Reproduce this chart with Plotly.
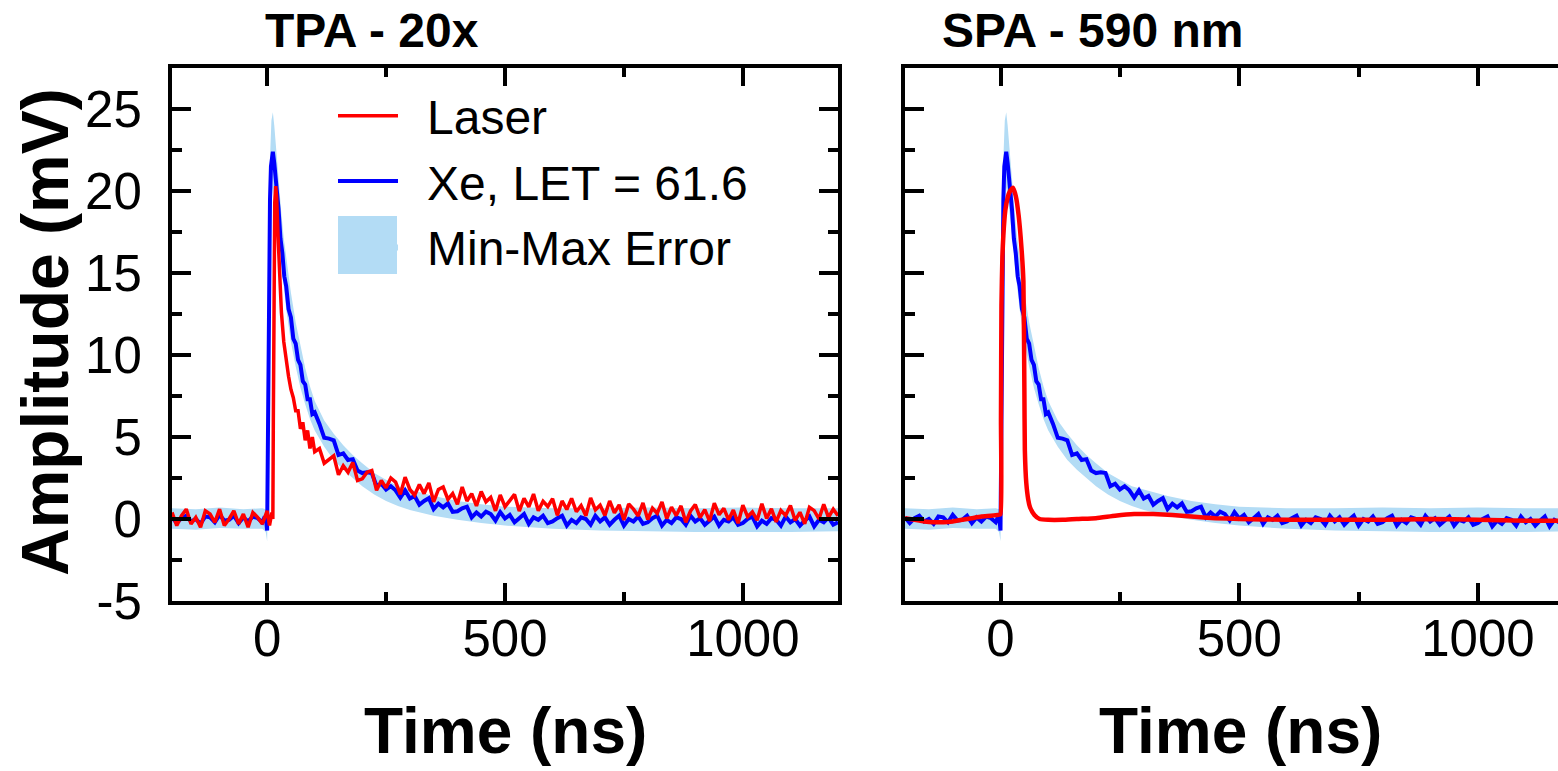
import plotly.graph_objects as go

# ---------------- data ----------------
# Xe heavy-ion transient (same measurement shown in both panels)
time_xe = (list(range(-200, 0, 10)) + [-5, -2, 0, 1, 2, 4, 6, 8, 10, 12, 15, 18, 21, 24, 28, 32, 36, 40,
                                          45, 50, 55, 60, 65, 70, 75, 80, 85, 90, 95, 100]
           + list(range(110, 1201, 10)))
xe_mv = [0.1, -0.25, 0.05, 0.2, -0.15, 0.0, -0.3, 0.15, 0.1, -0.2,
         0.25, -0.1, -0.05, 0.2, -0.25, 0.1, -0.15, 0.15, 0.05, -0.2,
         0.15, -0.10, -0.70, 3.0, 8.0, 15.0, 19.5, 21.5, 22.2, 22.4, 21.7, 20.9, 19.6, 18.9,
         17.1, 16.2, 14.8, 14.2, 12.8, 12.3, 11.0, 10.7, 9.7, 9.4, 8.4, 8.2, 7.3, 7.3, 6.4, 6.5,
         5.8, 4.95, 4.9, 4.8, 3.9, 4.0, 3.6, 3.65, 2.95, 2.8,
         2.85, 2.8, 2.0, 2.15, 1.8, 2.0, 1.75, 1.3, 1.75, 1.25,
         1.4, 0.87, 1.1, 1.27, 0.6, 0.93, 0.71, 0.95, 0.43, 0.47,
         0.65, 0.75, 0.1, 0.4, 0.15, 0.45, 0.3, -0.09, 0.42, 0.03,
         0.25, -0.2, 0.05, 0.3, -0.3, 0.1, -0.05, 0.2, -0.25, -0.15,
         0.05, 0.2, -0.4, -0.05, -0.25, 0.1, 0.0, -0.35, 0.2, -0.15,
         0.1, -0.35, -0.05, 0.2, -0.4, 0.0, -0.15, 0.15, -0.3, -0.2,
         0.05, 0.2, -0.4, -0.05, -0.25, 0.1, 0.0, -0.35, 0.2, -0.15,
         0.05, -0.35, -0.1, 0.15, -0.4, -0.05, -0.15, 0.1, -0.35, -0.25,
         0.0, 0.15, -0.45, -0.1, -0.3, 0.05, -0.05, -0.4, 0.15, -0.2,
         0.0, -0.4, -0.1, 0.15, -0.45, -0.05, -0.2, 0.1, -0.35, -0.2]

# Min-Max envelope of the Xe transients
time_band = [-200, -150, -100, -50, -10, -3, 0, 1, 2, 4, 6, 9, 12, 15, 18, 22, 26, 30, 35, 40,
             50, 60, 70, 80, 90, 100, 120, 140, 160, 180, 200, 225, 250, 275, 300, 350, 400,
             450, 500, 550, 600, 700, 800, 900, 1000, 1100, 1200]
band_max_mv = [0.65, 0.6, 0.7, 0.6, 0.65, 0.6, 0.4, 4.5, 10.5, 17.5, 22.0, 24.3, 24.8, 24.0, 22.8,
               21.5, 20.0, 18.6, 17.1, 15.9, 13.8, 12.0, 10.5, 9.2, 8.1, 7.2, 6.0, 5.2, 4.5, 3.9,
               3.4, 2.8, 2.4, 2.0, 1.8, 1.4, 1.1, 0.9, 0.75, 0.7, 0.65, 0.65, 0.7, 0.65, 0.7,
               0.65, 0.65]
band_min_mv = [-0.6, -0.65, -0.55, -0.6, -0.6, -0.8, -1.35, 0.5, 5.5, 12.0, 16.5, 19.3, 20.2, 19.7,
               19.0, 18.0, 16.8, 15.5, 14.0, 12.8, 10.8, 9.3, 8.0, 7.0, 6.1, 5.4, 4.4, 3.6, 3.0,
               2.5, 2.0, 1.5, 1.1, 0.8, 0.55, 0.2, -0.05, -0.25, -0.4, -0.5, -0.6, -0.7, -0.75,
               -0.8, -0.8, -0.8, -0.75]

# TPA laser transient (panel 1)
time_tpa = (list(range(-200, 1, 10)) + [5, 10, 12, 13, 14, 16, 18, 20, 23, 26, 30, 35, 40, 45, 50,
                                          55, 60, 65, 70, 75, 80, 85, 90, 95, 100]
            + list(range(110, 1201, 10)))
laser_tpa_mv = [0.4, -0.4, 0.2, 0.6, -0.3, 0.1, -0.5, 0.5, 0.3, -0.2,
                0.6, -0.4, 0.0, 0.5, -0.3, 0.3, -0.5, 0.4, 0.1, -0.3, 0.5,
                -0.4, 0.4, 0.0, 6.0, 14.0, 19.3, 20.3, 19.6, 17.2, 14.8, 12.6, 10.8, 9.6, 8.7,
                7.9, 7.4, 6.6, 6.6, 5.5, 5.9, 4.8, 5.4, 4.3, 5.0, 4.1,
                4.3, 3.4, 3.6, 3.85, 2.7, 3.25, 2.85, 3.45, 2.35, 2.45,
                2.85, 2.95, 1.75, 2.35, 1.9, 2.5, 2.25, 1.5, 2.55, 1.8,
                1.45, 2.1, 1.55, 2.2, 1.05, 1.8, 1.95, 1.2, 1.55, 0.9,
                1.95, 1.1, 1.55, 0.8, 1.68, 1.05, 1.32, 0.5, 1.47, 0.75,
                1.12, 1.5, 0.48, 1.26, 0.74, 1.52, 0.5, 1.08, 0.76, 1.24,
                0.22, 1.1, 0.58, 1.26, 0.44, 0.82, 0.2, 1.28, 0.56, 0.84,
                0.22, 1.1, 0.38, 0.86, -0.06, 0.92, 0.6, 0.19, 0.98, -0.03,
                0.66, 0.35, 1.04, 0.03, 0.72, 0.21, 0.8, -0.2, 0.49, 0.88,
                0.08, 0.57, -0.13, 0.96, 0.26, 0.65, -0.05, 0.55, -0.26, 0.84,
                0.14, 0.43, -0.07, 0.93, 0.03, 0.62, -0.18, 0.52, 0.22, 0.82,
                -0.09, 0.41, -0.29, 0.71, 0.51, 0.0, 0.9, 0.1, 0.6, 0.2]

# SPA laser transient, 590 nm (panel 2)
time_spa = [-200, -180, -160, -140, -120, -100, -80, -60, -40, -20, -5, 0, 1, 2, 4, 6, 10, 15, 20,
            26, 32, 38, 44, 48, 50, 51, 54, 58, 62, 71, 82, 100, 130, 160, 200, 240, 280, 320,
            360, 400, 450, 500, 600, 700, 800, 900, 1000, 1100, 1200]
laser_spa_mv = [0.05, -0.05, -0.15, -0.2, -0.2, -0.15, -0.05, 0.05, 0.15, 0.2, 0.25, 0.3, 6.0,
                13.0, 16.0, 17.3, 18.8, 19.6, 20.0, 20.2, 19.7, 18.5, 16.5, 14.5, 8.0, 4.2, 2.2,
                1.2, 0.7, 0.25, 0.0, -0.05, -0.05, 0.0, 0.05, 0.2, 0.3, 0.3, 0.25, 0.15, 0.05,
                0.0, -0.05, -0.05, -0.05, 0.0, -0.05, -0.1, -0.1]

assert len(time_xe) == len(xe_mv)
assert len(time_tpa) == len(laser_tpa_mv)
assert len(time_spa) == len(laser_spa_mv)
assert len(time_band) == len(band_max_mv) == len(band_min_mv)

x_tick_vals = [0, 500, 1000]
x_tick_text = ["0", "500", "1000"]
x_minor_vals = [-250, 250, 750]
y_tick_vals = [-5, 0, 5, 10, 15, 20, 25]
y_tick_text = ["-5", "0", "5", "10", "15", "20", "25"]
y_minor_vals = [-2.5, 2.5, 7.5, 12.5, 17.5, 22.5]

panel_titles = ["TPA - 20x", "SPA - 590 nm"]
legend_names = ["Laser", "Xe, LET = 61.6", "Min-Max Error"]

RED = "#ff0000"
BLUE = "#0000ff"
BAND = "#b3dcf5"
FONT = "Liberation Sans, Arial, sans-serif"
GAP = "\u2002"  # small gap between legend key and its label

fig = go.Figure()

band_x = time_band + time_band[::-1]
band_y = band_max_mv + band_min_mv[::-1]

for i, (xa, ya) in enumerate([("x", "y"), ("x2", "y2")]):
    first = i == 0
    fig.add_trace(go.Scatter(x=band_x, y=band_y, fill="toself", fillcolor=BAND,
                             line=dict(width=0, color=BAND), mode="lines",
                             name=GAP + legend_names[2], legendrank=3, showlegend=first,
                             hoverinfo="skip", xaxis=xa, yaxis=ya))
    fig.add_trace(go.Scatter(x=time_xe, y=xe_mv, mode="lines",
                             line=dict(color=BLUE, width=4),
                             name=GAP + legend_names[1], legendrank=2, showlegend=first,
                             xaxis=xa, yaxis=ya))
    if first:
        fig.add_trace(go.Scatter(x=time_tpa, y=laser_tpa_mv, mode="lines",
                                 line=dict(color=RED, width=3.5),
                                 name=GAP + legend_names[0], legendrank=1, showlegend=True,
                                 xaxis=xa, yaxis=ya))
    else:
        fig.add_trace(go.Scatter(x=time_spa, y=laser_spa_mv, mode="lines",
                                 line=dict(color=RED, width=4.5, shape="spline", smoothing=0.4),
                                 name=legend_names[0], showlegend=False,
                                 xaxis=xa, yaxis=ya))

W, H = 1558, 771
L, R, T, B = 172, 0, 68, 170
pw = W - L - R
ph = H - T - B
d1 = [0, (838 - L) / pw]
d2 = [(905 - L) / pw, 1]


def px_x(p):
    return (p - L) / pw


def px_y(p):
    return (H - B - p) / ph


tickfont = dict(family=FONT, size=51, color="black")
common_x = dict(showline=True, linewidth=4, linecolor="black", ticks="inside", ticklen=18,
                tickwidth=4, tickcolor="black", tickvals=x_tick_vals, ticktext=x_tick_text,
                minor=dict(tickvals=x_minor_vals, ticks="inside", ticklen=9, tickwidth=4,
                           tickcolor="black"),
                showgrid=False, zeroline=False, tickfont=tickfont,
                ticklabelposition="outside", ticklabelstandoff=-10)
common_y = dict(showline=True, linewidth=4, linecolor="black", ticks="inside", ticklen=19,
                tickwidth=4, tickcolor="black", tickvals=y_tick_vals, ticktext=y_tick_text,
                minor=dict(tickvals=y_minor_vals, ticks="inside", ticklen=10, tickwidth=4,
                           tickcolor="black"),
                showgrid=False, zeroline=False, tickfont=tickfont, range=[-5, 27.5])

fig.update_layout(
    width=W, height=H,
    margin=dict(l=L, r=R, t=T, b=B, pad=0),
    paper_bgcolor="white", plot_bgcolor="white",
    font=dict(family=FONT, color="black"),
    xaxis=dict(domain=d1, range=[-200, 1200], mirror="ticks", anchor="y", **common_x),
    xaxis2=dict(domain=d2, range=[-200, (1558 - 1000.7) / 0.4773], mirror="ticks", anchor="y2",
                **common_x),
    yaxis=dict(domain=[0, 1], anchor="x", mirror="ticks", ticklabelstandoff=16, **common_y),
    yaxis2=dict(domain=[0, 1], anchor="x2", mirror=False, showticklabels=False, **common_y),
    showlegend=True,
    legend=dict(x=px_x(333), y=px_y(78), xanchor="left", yanchor="top",
                bgcolor="rgba(0,0,0,0)", borderwidth=0,
                font=dict(family=FONT, size=48, color="black"),
                itemwidth=60, tracegroupgap=0),
    # square key behind the legend entry of the Min-Max band
    shapes=[dict(type="rect", xref="paper", yref="paper",
                 x0=px_x(338), x1=px_x(397), y0=px_y(274), y1=px_y(216),
                 fillcolor=BAND, line=dict(width=0), layer="above")],
)

ann = []
title_x = [px_x(372), px_x(1092)]
xlabel_x = [px_x(505), px_x(1240)]
for k in range(2):
    ann.append(dict(text="<b>" + panel_titles[k] + "</b>", x=title_x[k], y=px_y(30.4),
                    xref="paper", yref="paper", xanchor="center", yanchor="middle",
                    showarrow=False, font=dict(family=FONT, size=48, color="black")))
    ann.append(dict(text="<b>Time (ns)</b>", x=xlabel_x[k],
                    y=px_y(731), xref="paper", yref="paper", xanchor="center",
                    yanchor="middle", showarrow=False,
                    font=dict(family=FONT, size=64, color="black")))
ann.append(dict(text="<b>Amplitude (mV)</b>", x=px_x(45), y=px_y(332),
                xref="paper", yref="paper", xanchor="center", yanchor="middle",
                textangle=-90, showarrow=False,
                font=dict(family=FONT, size=66, color="black")))
fig.update_layout(annotations=ann)

fig.write_html("out.html")
